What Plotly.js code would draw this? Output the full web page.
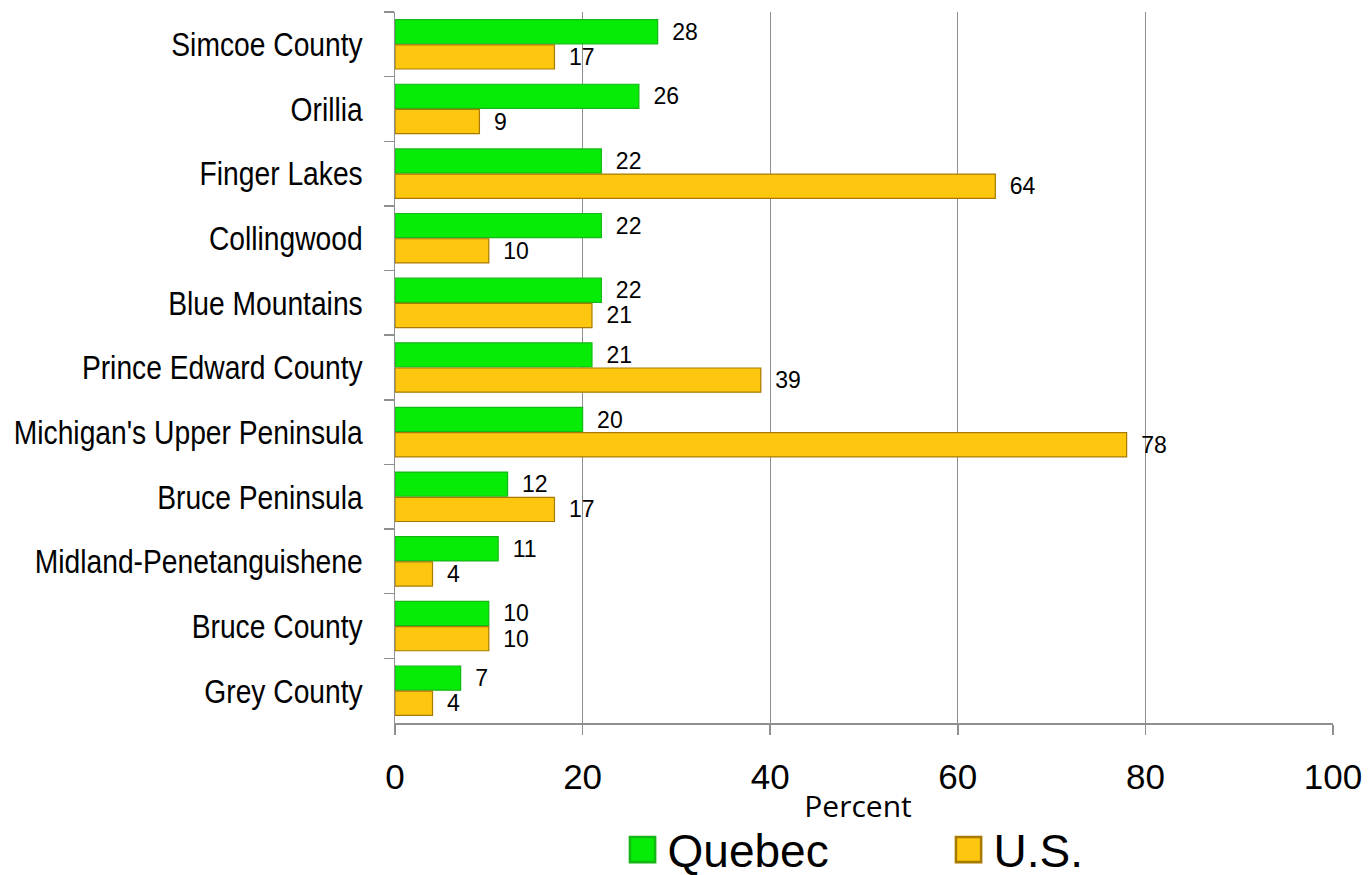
<!DOCTYPE html>
<html>
<head>
<meta charset="utf-8">
<script src="https://cdn.plot.ly/plotly-3.0.1.min.js"></script>
<style>
html,body{margin:0;padding:0;background:#fff;}
#chart{width:1372px;height:875px;}
</style>
</head>
<body>
<div id="chart"></div>
<script>
const categories = ["Simcoe County","Orillia","Finger Lakes","Collingwood","Blue Mountains","Prince Edward County","Michigan's Upper Peninsula","Bruce Peninsula","Midland-Penetanguishene","Bruce County","Grey County"];
const quebec = [28,26,22,22,22,21,20,12,11,10,7];
const us = [17,9,64,10,21,39,78,17,4,10,4];
const xTicks = [0,20,40,60,80,100];

const labelFont = {family:"Liberation Sans, Arial, sans-serif", size:23, color:"#000"};

const traces = [
  {type:"bar", orientation:"h", name:"Quebec", y:categories, x:quebec,
   marker:{color:"#07ec07", line:{color:"#14b814", width:1.2}},
   text:quebec, texttemplate:"\u2002%{x}", textposition:"outside", textfont:labelFont,
   constraintext:"none", cliponaxis:false},
  {type:"bar", orientation:"h", name:"U.S.", y:categories, x:us,
   marker:{color:"#fdc70f", line:{color:"#a87a00", width:1.2}},
   text:us, texttemplate:"\u2002%{x}", textposition:"outside", textfont:labelFont,
   constraintext:"none", cliponaxis:false}
];

const layout = {
  width:1372, height:875,
  margin:{l:395, r:39, t:12, b:152},
  paper_bgcolor:"#fff", plot_bgcolor:"#fff",
  barmode:"group", bargap:0.22, bargroupgap:0.04,
  showlegend:true,
  xaxis:{range:[0,100], tickvals:xTicks, ticktext:xTicks.map(String),
    showgrid:true, gridcolor:"#8f8f8f", gridwidth:1,
    showline:true, linecolor:"#8f8f8f", linewidth:1.5,
    ticks:"outside", ticklen:10, tickcolor:"#8f8f8f", tickwidth:1.5,
    zeroline:false, ticklabelstandoff:12, automargin:false,
    tickfont:{family:"Liberation Sans, Arial, sans-serif", size:35, color:"#000"},
    title:{text:"Percent", font:{family:"Open Sans, sans-serif", size:30, color:"#000"}}},
  yaxis:{type:"category", autorange:"reversed",
    showline:true, linecolor:"#8f8f8f", linewidth:1.5,
    ticks:"outside", ticklen:10, tickcolor:"#8f8f8f", tickwidth:1.5,
    tickson:"boundaries", showgrid:false, ticklabelstandoff:24,
    tickfont:{family:"Liberation Sans, Arial, sans-serif", size:34, color:"#000"}},
  legend:{orientation:"h", x:0.2479, xanchor:"left", xref:"paper",
    yref:"container", y:0.029, yanchor:"middle",
    entrywidth:281, entrywidthmode:"pixels",
    font:{family:"Liberation Sans, Arial, sans-serif", size:46, color:"#000"},
    bgcolor:"rgba(0,0,0,0)"}
};

Plotly.newPlot("chart", traces, layout, {displayModeBar:false, staticPlot:true}).then(function(){
  document.querySelectorAll(".legend .legendpoints path").forEach(function(p){
    p.setAttribute("transform","translate(15,0) scale(2.1)");
  });
  document.querySelectorAll(".legend [clip-path]").forEach(function(el){
    el.removeAttribute("clip-path");
  });
  document.querySelectorAll(".legend").forEach(function(el){
    el.removeAttribute("clip-path");
  });
  // nudge axis title to match the reference position
  document.querySelectorAll(".g-xtitle").forEach(function(g){
    g.setAttribute("transform","translate(-6,-7)");
  });
  // condense category labels (Arial Narrow look)
  document.querySelectorAll(".yaxislayer-above .ytick text, .yaxislayer-above text").forEach(function(t){
    const w = t.getComputedTextLength();
    t.setAttribute("textLength", (w*0.83).toFixed(1));
    t.setAttribute("lengthAdjust","spacingAndGlyphs");
  });
});
</script>
</body>
</html>
